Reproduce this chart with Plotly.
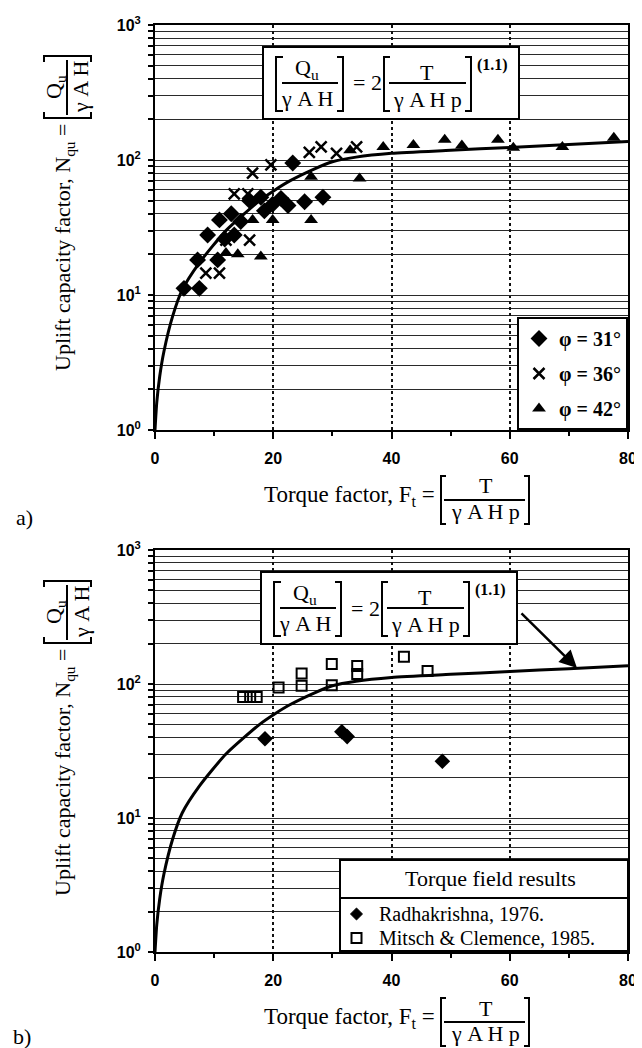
import plotly.graph_objects as go

# page size and the browser's default 8 px body margin
PAGE_W, PAGE_H = 642, 1048
OFF = 8
W, H = PAGE_W - OFF, PAGE_H - OFF

# ---------------- data ----------------
# fitted relationship drawn as a curve (same in both panels)
curve_x = [0, 0.3, 0.8, 1.5, 3, 4.6, 7.5, 12, 17.7, 20.3, 22.8, 27, 30, 34, 40, 50, 60, 70, 80]
curve_y = [1, 1.6, 2.5, 3.8, 7, 10.9, 17.3, 30, 50, 60, 70, 86, 97, 105, 112, 118, 124, 130, 137]

# panel a) laboratory data
phi31_x = [4.9, 7.5, 7.2, 10.6, 8.9, 11.8, 13.4, 10.9, 12.9, 14.5, 16.0, 17.9, 18.5, 19.9, 21.3, 22.5, 25.3, 28.4, 23.3]
phi31_y = [11.2, 11.2, 18.2, 18.2, 27.8, 26, 27.8, 36, 40, 35, 50, 53, 42, 47, 52, 46, 49, 53, 95]

phi36_x = [8.6, 10.9, 12.0, 16.0, 13.4, 15.7, 16.5, 19.6, 26.1, 28.1, 30.7, 34.1]
phi36_y = [14.5, 14.5, 25.5, 25.5, 56, 56, 80, 92, 114, 125, 112, 125]

phi42_x = [12.0, 14.0, 17.9, 16.5, 19.9, 26.4, 26.4, 34.6, 33.0, 38.6, 43.7, 49.0, 51.9, 58.0, 60.6, 68.9, 77.6]
phi42_y = [20.5, 20, 19.3, 36, 36, 36, 75, 73, 118, 125, 129, 141, 128, 141, 123, 125, 146]

# panel b) field data
rk_x = [18.6, 31.6, 32.5, 48.6]
rk_y = [39, 44, 40.5, 26.5]
mc_x = [14.9, 16.1, 17.2, 20.9, 24.8, 24.8, 29.9, 29.9, 34.2, 34.2, 42.1, 46.1]
mc_y = [80, 80, 80, 94, 120, 97, 141, 98, 136, 119, 160, 125]

# axis ticks
x_ticks = [0, 20, 40, 60, 80]
x_minor = [10, 30, 50, 70]
y_ticks = [1, 10, 100, 1000]
y_ticktext = ["10<sup>0</sup>", "10<sup>1</sup>", "10<sup>2</sup>", "10<sup>3</sup>"]
y_minor = [m * 10 ** k for k in range(0, 3) for m in range(2, 10)]

SERIF = "Liberation Serif"
SANS = "Liberation Sans"

fig = go.Figure()

def scat(x, y, name, symbol, size, xa, ya, show=True, lw=0):
    mk = dict(symbol=symbol, size=size, color="black")
    if lw:
        mk["line"] = dict(color="black", width=lw)
    fig.add_trace(go.Scatter(x=x, y=y, mode="markers", name=name, marker=mk, showlegend=show,
                             xaxis=xa, yaxis=ya, legendgroup=name))

curve_line = dict(color="black", width=3, shape="spline", smoothing=0.6)
# panel a
fig.add_trace(go.Scatter(x=curve_x, y=curve_y, mode="lines", line=curve_line, showlegend=False, xaxis="x", yaxis="y"))
scat(phi31_x, phi31_y, "φ = 31°", "diamond", 13, "x", "y")
scat(phi36_x, phi36_y, "φ = 36°", "x-thin", 11, "x", "y", lw=2.5)
scat(phi42_x, phi42_y, "φ = 42°", "triangle-up", 12, "x", "y")
# panel b
fig.add_trace(go.Scatter(x=curve_x, y=curve_y, mode="lines", line=curve_line, showlegend=False, xaxis="x2", yaxis="y2"))
scat(rk_x, rk_y, "Radhakrishna, 1976.", "diamond", 12, "x2", "y2", show=False)
scat(mc_x, mc_y, "Mitsch & Clemence, 1985.", "square-open", 10, "x2", "y2", show=False, lw=2)

# ---------------- layout helpers (page pixel -> paper) ----------------
def px(x):
    return (x - OFF) / W

def py(y):
    return 1 - (y - OFF) / H

annotations = []
shapes = []

def txt(x, y, s, size=22, angle=0, xanchor="center", yanchor="middle", bold=False):
    annotations.append(dict(x=px(x), y=py(y), xref="paper", yref="paper", text=s, showarrow=False,
                            xanchor=xanchor, yanchor=yanchor, textangle=angle,
                            font=dict(family=SERIF, size=size, color="black", weight="bold" if bold else "normal")))

def line(x0, y0, x1, y1, w=2):
    shapes.append(dict(type="line", xref="paper", yref="paper", x0=px(x0), y0=py(y0), x1=px(x1), y1=py(y1),
                       line=dict(color="black", width=w)))

def path(points, w=2, fill=None, close=False):
    d = "M " + " L ".join("%.5f,%.5f" % (px(a), py(b)) for a, b in points) + (" Z" if close else "")
    sh = dict(type="path", xref="paper", yref="paper", path=d, line=dict(color="black", width=w))
    if fill:
        sh["fillcolor"] = fill
    shapes.append(sh)

def rect(x0, y0, x1, y1, w=2, fill="white"):
    shapes.append(dict(type="rect", xref="paper", yref="paper", x0=px(x0), y0=py(y0), x1=px(x1), y1=py(y1),
                       line=dict(color="black", width=w), fillcolor=fill))

def equation(bx, by):
    rect(bx, by, bx + 256, by + 72)
    path([(bx + 20, by + 10), (bx + 13, by + 10), (bx + 13, by + 64), (bx + 20, by + 64)])
    txt(bx + 44, by + 22, "Q<sub>u</sub>")
    line(bx + 19, by + 36, bx + 75, by + 36)
    txt(bx + 44, by + 51, "γ A H")
    path([(bx + 74, by + 10), (bx + 80, by + 10), (bx + 80, by + 64), (bx + 74, by + 64)])
    txt(bx + 104, by + 36, "= 2")
    path([(bx + 127, by + 10), (bx + 121, by + 10), (bx + 121, by + 64), (bx + 127, by + 64)])
    txt(bx + 164, by + 25, "T")
    line(bx + 126, by + 36, bx + 203, by + 36)
    txt(bx + 164, by + 52, "γ A H p")
    path([(bx + 202, by + 10), (bx + 208, by + 10), (bx + 208, by + 64), (bx + 202, by + 64)])
    txt(bx + 229, by + 18, "(1.1)", size=16, bold=True)

def xtitle(base):
    txt(437, base + 66, "Torque factor, F<sub>t</sub> =", size=23, xanchor="right")
    path([(446, base + 46), (441, base + 46), (441, base + 94), (446, base + 94)])
    txt(485.5, base + 56, "T")
    line(444, base + 70, 525, base + 70)
    txt(485.5, base + 81, "γ A H p")
    path([(524, base + 46), (529, base + 46), (529, base + 94), (524, base + 94)])

def ytitle(top):
    txt(64, top + 223, "Uplift capacity factor, N<sub>qu</sub> =", angle=-90)
    path([(44, top + 87), (44, top + 93), (91, top + 93), (91, top + 87)])
    txt(55, top + 62, "Q<sub>u</sub>", angle=-90)
    line(67, top + 90, 67, top + 35)
    txt(81, top + 62, "γ A H", angle=-90)
    path([(44, top + 37), (44, top + 31), (91, top + 31), (91, top + 37)])

A_TOP, A_BOT = 25, 430
B_TOP, B_BOT = 550, 952
X_LEFT, X_RIGHT = 155, 628

equation(263, A_TOP + 22)
equation(261, B_TOP + 22)
xtitle(A_BOT)
xtitle(B_BOT)
ytitle(A_TOP)
ytitle(B_TOP)
txt(24, 517, "a)")
txt(22, 1036, "b)")

# legend of panel b: header box with two entries
rect(340, 860, X_RIGHT, 951)
line(340, 898, X_RIGHT, 898)
txt(490, 878, "Torque field results")
path([(356.5, 908), (362.5, 914), (356.5, 920), (350.5, 914)], w=1, fill="black", close=True)
txt(377, 914, "Radhakrishna, 1976.", size=20, xanchor="left")
rect(351.5, 933, 361.5, 943, w=2, fill="white")
txt(377, 938, "Mitsch & Clemence, 1985.", size=20, xanchor="left")

# arrow in panel b
annotations.append(dict(x=px(577), y=py(668), xref="paper", yref="paper", text="", showarrow=True,
                        ax=-57, ay=-56, arrowhead=2, arrowsize=1.4, arrowwidth=2.5, arrowcolor="black"))

xcommon = dict(range=[0, 80], tickvals=x_ticks, ticktext=[str(v) for v in x_ticks], ticks="outside", ticklen=7,
               tickwidth=2, tickcolor="black", showline=True, linewidth=2, linecolor="black", mirror=True,
               showgrid=True, gridcolor="#111", griddash="dot", gridwidth=1.5, zeroline=False,
               tickfont=dict(family=SANS, size=16, color="black", weight="bold"), ticklabelstandoff=6,
               minor=dict(tickvals=x_minor, ticks="outside", ticklen=4, tickwidth=2, tickcolor="black", showgrid=False),
               domain=[px(X_LEFT), px(X_RIGHT)], automargin=False)
ycommon = dict(type="log", range=[0, 3], tickvals=y_ticks, ticktext=y_ticktext, ticks="outside", ticklen=5,
               tickwidth=2, tickcolor="black", showline=True, linewidth=2, linecolor="black", mirror=True,
               showgrid=True, gridcolor="#2a2a2a", gridwidth=1, zeroline=False,
               minor=dict(tickvals=y_minor, ticks="outside", ticklen=5, tickwidth=2, tickcolor="black",
                          showgrid=True, gridcolor="#2a2a2a", gridwidth=1),
               tickfont=dict(family=SANS, size=16, color="black", weight="bold"), ticklabelstandoff=4,
               automargin=False)

fig.update_layout(
    width=W, height=H, margin=dict(l=0, r=0, t=0, b=0),
    paper_bgcolor="white", plot_bgcolor="white",
    xaxis=dict(xcommon, anchor="y"),
    yaxis=dict(ycommon, anchor="x", domain=[py(A_BOT), py(A_TOP)]),
    xaxis2=dict(xcommon, anchor="y2"),
    yaxis2=dict(ycommon, anchor="x2", domain=[py(B_BOT), py(B_TOP)]),
    legend=dict(x=px(X_RIGHT), y=py(A_BOT), xanchor="right", yanchor="bottom", bgcolor="white",
                bordercolor="black", borderwidth=2, traceorder="grouped", tracegroupgap=6, itemwidth=30,
                font=dict(family=SERIF, size=20, color="black", weight="bold")),
    annotations=annotations, shapes=shapes, showlegend=True,
)

fig.write_html("out.html")
